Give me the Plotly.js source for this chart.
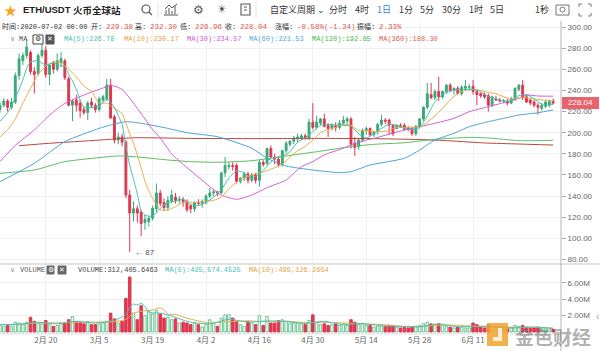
<!DOCTYPE html>
<html><head><meta charset="utf-8">
<script src="https://cdn.plot.ly/plotly-3.0.1.min.js"></script>
<style>html,body{margin:0;padding:0;background:#fff;overflow:hidden}#chart{width:600px;height:351px}</style>
</head><body><div id="chart"></div>
<script>
// ---------- DATA (day index 0 = 2020-02-08, 145 = 2020-07-02) ----------
const OPEN = [222,226,230,224,229,254,268,273,276,258,
256,273,278,255,266,260,266,268,251,226,
231,228,222,219,229,226,222,231,232,245,
215,193,196,191,141,124,128,125,115,116,
119,128,143,134,129,135,139,136,137,135,
131,128,134,133,134,140,143,144,143,162,
168,169,169,154,157,161,155,160,155,172,
171,185,177,175,170,183,189,192,194,195,
197,195,210,205,209,213,207,204,207,205,
209,211,213,190,187,193,202,204,198,202,
208,212,212,207,204,207,207,205,204,199,
206,213,224,236,233,239,234,239,245,240,
242,237,242,243,244,239,237,236,235,226,
232,231,230,230,228,232,241,245,234,231,
229,226,223,225,226,229.38];
const HIGH = [229,233,232,233,257,275,276,288,278,262,
275,288,282,266,268,275,276,270,253,232,
236,231,225,230,233,228,234,236,251,251,
217,200,199,193,146,135,131,127,122,121,
131,152,146,138,140,146,143,140,139,137,
132,135,137,137,142,148,146,145,163,177,
172,172,171,158,163,163,162,162,174,174,
186,188,180,177,184,192,193,197,199,199,
199,213,228,216,214,218,209,209,210,212,
216,215,215,196,195,204,206,205,202,209,
217,214,213,208,208,209,209,206,206,207,
214,225,247,247,241,253,240,246,247,243,
244,245,250,246,250,240,238,238,237,235,
235,233,232,232,234,243,246,250,236,232,
231,228,228,231,231,232.30];
const LOW = [219,224,220,222,227,250,264,270,255,237,
254,271,252,245,256,258,262,250,225,211,
220,214,217,212,223,219,220,229,230,213,
190,189,187,138,87,116,115,102,108,111,
117,125,130,126,126,133,133,133,130,125,
124,125,131,129,132,138,140,140,142,158,
165,164,152,152,154,152,153,152,149,168,
169,176,170,168,168,181,187,189,191,193,
193,193,203,203,207,205,196,202,201,203,
207,208,185,178,184,191,198,197,196,198,
206,208,198,197,203,205,202,201,197,197,
204,211,222,232,231,230,232,237,239,236,
236,235,240,240,236,226,233,232,220,224,
230,229,228,226,227,230,239,231,228,226,
224,217,221,223,224,226.96];
const CLOSE = [226,230,224,229,254,270,273,281,258,255,
273,278,255,264,260,268,270,252,226,230,
226,221,219,228,226,222,232,234,245,214,
193,196,191,141,124,128,124,114,118,119,
128.5,143,133,129,136,141,136,137,134,127,
128,134,133,135,140,143,144,143,162,169,
169,168,154,157,161,155,160,155,172,170,
185,177,175,170,183,190,192,195,196,197,
195,210,205,210,213,206,204,207,205,209,
212,213,189,186,193,202,204,198,200,208,
212,211,207,199,207,206,203,203,199,206,
213,224,237,233,239,234,239,245,240,242,
237,243,244,243.4,239,236,235,234,226,234,
231,230,230.4,228,232,242,245,233,229,228,
226,224,226,229,229.38,228.04];
// volume, millions
const VOLUME = [0.9,0.7,0.8,0.7,1.2,1.1,0.9,1.2,1.8,1.3,
1.1,1.0,1.4,1.0,0.7,0.8,1.0,1.1,1.5,1.9,
1.3,1.2,1.0,1.3,0.9,0.9,1.0,1.1,1.3,2.3,
1.6,1.1,1.3,4.1,6.7,2.3,1.5,3.2,2.0,2.5,
2.2,2.6,2.2,1.7,1.8,1.5,1.6,1.1,1.2,1.1,
0.9,1.1,0.9,0.6,0.9,1.5,1.1,0.7,1.7,2.1,
2.1,1.7,1.3,0.9,0.7,1.3,1.1,0.9,2.0,0.8,
1.9,1.1,1.1,1.4,1.5,1.3,1.1,1.1,1.1,1.0,
0.9,1.4,2.1,1.2,0.9,1.0,0.8,0.9,1.0,0.8,
1.0,0.8,1.5,1.2,0.9,1.0,0.8,0.8,0.6,0.7,
0.9,0.7,0.8,0.8,0.6,0.5,0.6,0.5,0.6,0.7,
0.8,1.0,1.2,1.0,0.9,1.0,0.8,0.7,0.6,0.5,
0.6,0.6,0.5,0.5,1.1,0.9,0.6,0.5,0.9,0.7,
0.5,0.4,0.4,0.4,0.5,0.8,0.7,0.8,0.6,0.5,
0.5,0.6,0.4,0.4,0.4,0.312];

// moving-average lines (day index, value)
const MA5_D = [0,2,4,5,6,7,8,10,12,14,16,17,18,19,20,22,24,26,28,29,30,31,32,33,34,35,36,37,38,40,42,44,46,48,50,52,54,56,58,60,62,64,66,68,70,72,74,76,78,80,82,84,86,88,90,92,94,96,98,100,102,104,106,108,110,112,114,116,118,120,122,124,126,128,130,132,134,136,138,140,142,144,145];
const MA5_V = [211,219,233,241,250,261,267,268,264,266,263,263,255,249,241,224,224,225,232,229,224,216,208,187,169,156,142,126,122,121,128,134,135,137,132,131,134,139,146,157,164,162,157,161,168,176,178,182,191,195,201,207,208,207,207,206,199,195,199,204,208,207,204,203,205,216,229,236,239,241,241,241,239,234,232,230,230,235,236,232,227,227,226.78];
const MA10_D = [0,2,4,6,8,10,12,14,16,18,20,22,24,26,28,30,32,33,34,35,36,37,38,39,40,42,44,46,48,50,52,54,56,58,60,62,64,66,68,70,72,74,76,78,80,82,84,86,88,90,92,94,96,98,100,102,104,106,108,110,112,114,116,118,120,122,124,126,128,130,132,134,136,138,140,142,144,145];
const MA10_V = [196,203,213,228,242,255,263,267,266,260,253,244,239,228,228,223,218,209,199,190,179,167,154,145,138,127,127,130,134,134,134,135,136,139,147,153,157,160,162,164,167,170,177,183,187,193,200,203,205,208,207,202,202,201,201,202,205,205,205,205,210,216,223,231,237,240,241,240,238,237,234,232,233,233,232,231,230.5,230.17];
const MA30_D = [0,4,9,13,17,22,26,29,30,32,35,38,40,42,45,49,54,58,62,66,70,75,79,82,85,90,92,96,98,106,110,114,119,123,128,132,136,138,141,145];
const MA30_V = [172.6,188,202.6,216.7,227.8,235.7,241,244.5,244,241,228,213,203,195,180,167,152,141,137,141,148,155.3,167.9,172.6,179,185.3,188.4,193.1,194.6,202.6,205.7,208.9,213.6,219.9,224.6,228.4,232.5,235.7,234.7,234.57];
const MA60_D = [0,9,17,26,30,33,37,44,49,57,66,70,75,82,89,92,97,106,110,114,119,123,128,132,136,141,145];
const MA60_V = [153.7,171,191.5,204.1,208.2,210.4,208.9,204.1,200,196.2,185.3,175.8,168.5,164.7,162.2,163.1,169.4,175.8,183.6,193.1,199.4,205.7,210.4,213.6,216.7,218.9,221.53];
const MA120_D = [0,9,17,26,31,35,44,50,57,66,75,83,92,98,106,114,123,128,132,136,141,145];
const MA120_V = [161.6,164.7,172.6,176.4,178,177.4,174.2,172.6,172,173.5,178,182,186.8,189,190.5,193.7,195.6,195,193.7,192.5,192.5,192.85];
const MA360_D = [5,13,26,35,50,65,83,97,110,118,127,136,145];
const MA360_V = [187.7,190,193,195.2,194.6,194.4,194.6,194.4,193.5,192.3,190.3,189.3,188.3];
const VMA5_D = [0,5,10,15,20,25,30,33,34,35,36,37,38,39,42,45,48,50,55,60,65,70,75,80,85,90,95,100,105,110,115,120,125,130,135,140,145];
const VMA5_V = [0.9,0.95,1.2,1.0,1.3,1.1,1.45,2.1,3.0,3.4,3.3,3.5,3.1,2.4,2.3,1.95,1.45,1.2,1.0,1.55,1.2,1.35,1.3,1.05,1.3,0.9,1.05,0.76,0.68,0.64,1.0,0.64,0.72,0.64,0.5,0.62,0.4256];
const VMA10_D = [0,5,10,15,20,25,30,33,35,37,40,42,43,44,46,48,50,55,60,65,70,75,80,85,90,95,100,105,110,115,120,125,130,135,140,145];
const VMA10_V = [0.9,0.95,1.08,1.12,1.17,1.21,1.26,1.56,2.28,2.54,2.69,2.93,2.69,2.2,2.13,1.84,1.57,1.09,1.27,1.36,1.26,1.31,1.16,1.18,1.11,0.99,0.92,0.72,0.66,0.83,0.83,0.68,0.68,0.57,0.56,0.4951];

const DATE_TICKS = [12,26,40,54,68,82,96,110,124];
const DATE_LABELS = ['2月 20','3月 5','3月 19','4月 2','4月 16','4月 30','5月 14','5月 28','6月 11'];
const PRICE_TICKS = [80,100,120,140,160,180,200,220,240,260,280,300];
const VOL_TICKS = [2,4,6];
const VOL_LABELS = ['2.00M','4.00M','6.00M'];

// ---------- STYLE ----------
const GREEN='#3aa879', RED='#e0364f';
const C_MA5='#45c2b3', C_MA10='#e9ad45', C_MA30='#d45dd8', C_MA60='#4aa4d8', C_MA120='#5bbf5e', C_MA360='#b8473d';
const MONO='Liberation Mono, DejaVu Sans Mono, Noto Sans CJK SC, monospace';
const CJK='Noto Sans CJK SC, Noto Sans, sans-serif';
const SANS='Liberation Sans, Arial, Noto Sans CJK SC, sans-serif';
const H=351, PW=561;
const px=x=>x/PW, py=y=>1-y/H;

const days = OPEN.map((_,i)=>i);

const traces = [];
traces.push({type:'candlestick', x:days, open:OPEN, high:HIGH, low:LOW, close:CLOSE,
  xaxis:'x', yaxis:'y', hoverinfo:'skip', whiskerwidth:0,
  increasing:{line:{color:GREEN,width:1}, fillcolor:GREEN},
  decreasing:{line:{color:RED,width:1}, fillcolor:RED}});
function maLine(xs, ys, color, yaxis){
  return {type:'scatter', mode:'lines', x:xs, y:ys, xaxis:'x', yaxis:yaxis,
    line:{color:color, width:1, shape:'spline', smoothing:0.6}, hoverinfo:'skip'};
}
traces.push(maLine(MA360_D, MA360_V, C_MA360, 'y'));
traces.push(maLine(MA120_D, MA120_V, C_MA120, 'y'));
traces.push(maLine(MA60_D, MA60_V, C_MA60, 'y'));
traces.push(maLine(MA30_D, MA30_V, C_MA30, 'y'));
traces.push(maLine(MA10_D, MA10_V, C_MA10, 'y'));
traces.push(maLine(MA5_D, MA5_V, C_MA5, 'y'));

const up = CLOSE.map((c,i)=>c>=OPEN[i]);
traces.push({type:'bar', x:days, y:VOLUME, xaxis:'x', yaxis:'y2', width:0.66, hoverinfo:'skip',
  marker:{color:up.map(u=>u?'#f4fbf7':RED), line:{color:up.map(u=>u?'#6cc596':RED), width:1}}});
traces.push(maLine(VMA10_D, VMA10_V, C_MA10, 'y2'));
traces.push(maLine(VMA5_D, VMA5_V, C_MA5, 'y2'));

// ---------- annotations ----------
const ann = [];
function T(x,y,text,color,size,family,anchor,extra){
  ann.push(Object.assign({xref:'paper',yref:'paper',x:px(x),y:py(y),text:text,showarrow:false,
    xanchor:anchor||'left',yanchor:'middle',font:{color:color||'#333',size:size||8,family:family||MONO}},extra||{}));
}
// toolbar
T(10,10,'★','#f5a524',13,CJK,'center');
T(21,10,'<b>ETH/USDT</b>','#222',9.5,SANS);
T(71,10,'<b>火币全球站</b>','#222',9.5,CJK);
T(198,10,'⚙','#555',12,'DejaVu Sans','center');
T(222,10,'☀','#444',11,'DejaVu Sans','center');
T(268,10,'自定义周期 ⌄','#333',9,CJK);
T(327,10,'分时','#333',9,CJK);
T(353,10,'4时','#333',9,CJK);
T(375,10,'1日','#3b7fd9',9,CJK);
T(397,10,'1分','#333',9,CJK);
T(418,10,'5分','#333',9,CJK);
T(440,10,'30分','#333',9,CJK);
T(467,10,'1时','#333',9,CJK);
T(488,10,'5日','#333',9,CJK);
T(533,10,'1秒','#333',9,CJK);
// info row : labels right-anchored just before their values
const IR='#e4554f';
T(0,27,'时间:2020-07-02 00:00','#333',7);
T(103.5,27,'开:','#333',7,MONO,'right'); T(104,27,'229.38',IR,7.5);
T(147.5,27,'高:','#333',7,MONO,'right'); T(148,27,'232.30',IR,7.5);
T(192.5,27,'低:','#333',7,MONO,'right'); T(193,27,'226.96',IR,7.5);
T(237.5,27,'收:','#333',7,MONO,'right'); T(238,27,'228.04',IR,7.5);
T(294.5,27,'涨幅:','#333',7,MONO,'right'); T(295,27,'-0.58%(-1.34)',IR,7.5);
T(376.5,27,'振幅:','#333',7,MONO,'right'); T(377,27,'2.33%',IR,7.5);
// MA legend row
T(8,39,'∨','#888',7,'DejaVu Sans');
T(17,39,'MA','#555',7);
T(38,39,'⚙','#333',7,'DejaVu Sans','center');
T(50,39,'✕','#fff',7,'DejaVu Sans','center');
T(62,39,'MA(5):226.78',C_MA5,7);
T(122,39,'MA(10):230.17','#e3a53a',7);
T(185,39,'MA(30):234.57','#cf5bd6',7);
T(247,39,'MA(60):221.53','#4ea8d8',7);
T(310,39,'MA(120):192.85','#3fb94d',7);
T(377,39,'MA(360):188.30','#d9604f',7);
// volume legend row
T(8,270,'∨','#888',7,'DejaVu Sans');
T(18,270,'VOLUME','#555',7);
T(50.5,270,'⚙','#fff',7,'DejaVu Sans','center');
T(62,270,'✕','#fff',7,'DejaVu Sans','center');
T(76,270,'VOLUME:312,405.6463','#444',7);
T(163,270,'MA(5):425,574.4525',C_MA5,7);
T(247,270,'MA(10):495,126.2654','#e3a53a',7);
// last price label
T(580.5,103,'228.04','#ffffff',8,SANS,'center');
// low marker
ann.push({xref:'x',yref:'y',x:34.9,y:87,text:'← 87',showarrow:false,xanchor:'left',yanchor:'middle',font:{color:'#555',size:8,family:SANS}});
// watermark
T(553,336,'<b>金色财经</b>','rgba(100,100,100,0.5)',19,CJK,'center');
T(597,316,'‹','#999',10,SANS,'center');

// ---------- shapes ----------
const shp = [];
function L(x0,y0,x1,y1,color,w){shp.push({type:'line',xref:'paper',yref:'paper',x0:px(x0),y0:py(y0),x1:px(x1),y1:py(y1),line:{color:color,width:w||1}});}
function R(x0,y0,x1,y1,fill,lc,lw){shp.push({type:'rect',xref:'paper',yref:'paper',x0:px(x0),y0:py(y0),x1:px(x1),y1:py(y1),fillcolor:fill,line:{color:lc||fill,width:lw===undefined?1:lw}});}
function C(x0,y0,x1,y1,lc,lw){shp.push({type:'circle',xref:'paper',yref:'paper',x0:px(x0),y0:py(y0),x1:px(x1),y1:py(y1),line:{color:lc,width:lw||1}});}
function P(pts,lc,lw){
  let d='';
  pts.forEach(seg=>{seg.forEach((p,i)=>{d+=(i?'L':'M')+px(p[0]).toFixed(5)+','+py(p[1]).toFixed(5)+' ';});});
  shp.push({type:'path',xref:'paper',yref:'paper',path:d,line:{color:lc,width:lw||1}});
}
// toolbar icons
C(142,5,150,13,'#555',1.2); L(149,12,152,15,'#555',1.3);
P([[[164,15],[178,15]],[[166,14],[166,10]],[[169,14],[169,8]],[[172,14],[172,11]],[[175,14],[175,6]],[[165,9],[169,5],[172,8],[177,4]]],'#555',1);
R(241,4,250,15,'rgba(0,0,0,0)','#555',1.1); L(244,7,247,7,'#555',1); L(244,10,247,10,'#555',1);
L(158,2,158,18,'#e3e3e3',1); L(256,2,256,18,'#e3e3e3',1);
R(556,5,569,15,'rgba(0,0,0,0)','#777',1); C(560,7,565,12,'#777',1);
P([[[579,7],[579,4],[582,4]],[[588,4],[591,4],[591,7]],[[591,13],[591,16],[588,16]],[[582,16],[579,16],[579,13]]],'#777',1);
// legend boxes
R(33,35,43,44,'#ffffff','#444',1);
R(46,35,54,44,'#555','#555',1);
R(47,266,54,274,'#666','#666',1);
R(58,266,66,274,'#666','#666',1);
// panel separators and right axis line
L(0,264,600,264,'#e2e2e2',2);
L(0,334,561,334,'#dddddd',1);
L(561,21,561,351,'#b5b5b5',1);
// last price box
R(562,97,599,109,'#e8636c','#e8636c',0);
// watermark logo
R(487,323,508,346,'rgba(242,162,45,0.85)','rgba(242,162,45,0.85)',0);
R(493,328,502,341,'rgba(255,255,255,0.8)','rgba(255,255,255,0.8)',0);
R(493,328,498,337,'rgba(242,162,45,0.85)','rgba(242,162,45,0.85)',0);

const layout = {
  width:600, height:351, margin:{l:0,r:39,t:0,b:0},
  paper_bgcolor:'#ffffff', plot_bgcolor:'#ffffff', showlegend:false, hovermode:false, dragmode:false,
  xaxis:{range:[0,147.05], anchor:'y2', domain:[0,1], tickmode:'array', tickvals:DATE_TICKS, ticktext:DATE_LABELS,
    showgrid:true, gridcolor:'#eef2f5', zeroline:false, showline:false, ticks:'',
    tickfont:{size:8,color:'#666',family:CJK}, rangeslider:{visible:false}, fixedrange:true},
  yaxis:{domain:[py(263),py(21)], range:[76.7,305.7], side:'right', tickmode:'array', tickvals:PRICE_TICKS,
    ticktext:PRICE_TICKS.map(v=>v.toFixed(2)), showgrid:true, gridcolor:'#eef2f5', zeroline:false,
    ticks:'outside', ticklen:4, tickcolor:'#aaa', tickfont:{size:8,color:'#666',family:SANS}, showline:false, fixedrange:true},
  yaxis2:{domain:[py(334),py(265)], range:[-0.24,8.17], side:'right', tickmode:'array', tickvals:VOL_TICKS,
    ticktext:VOL_LABELS, showgrid:true, gridcolor:'#eef2f5', zeroline:false,
    ticks:'outside', ticklen:4, tickcolor:'#aaa', tickfont:{size:8,color:'#666',family:SANS}, showline:false, fixedrange:true},
  annotations:ann, shapes:shp
};
Plotly.newPlot('chart', traces, layout, {staticPlot:true, displayModeBar:false});
</script></body></html>
